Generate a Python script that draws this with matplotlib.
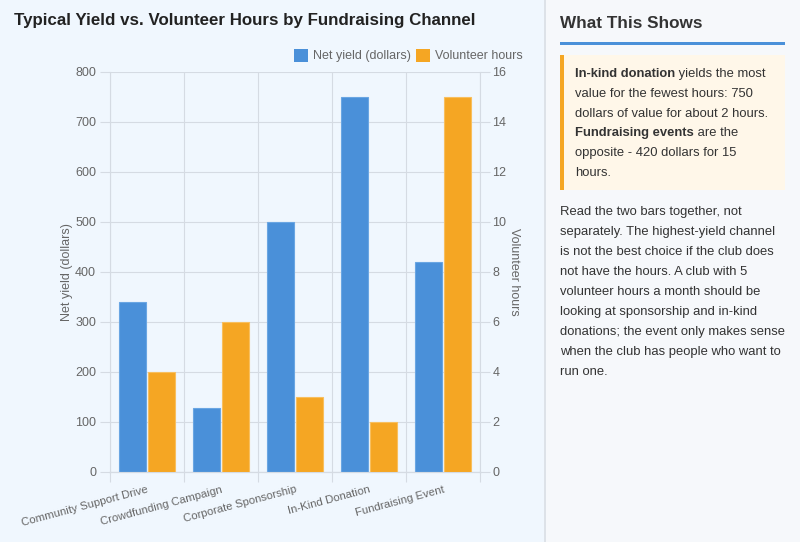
import numpy as np
import matplotlib.pyplot as plt
from matplotlib.patches import Rectangle

plt.rcParams["font.family"] = ["Liberation Sans", "DejaVu Sans"]

channels = ["Community Support Drive", "Crowdfunding Campaign", "Corporate Sponsorship",
            "In-Kind Donation", "Fundraising Event"]
net_yield = [340, 128, 500, 750, 420]
volunteer_hours = [4, 6, 3, 2, 15]

BLUE = "#4a90d9"
ORANGE = "#f5a623"
GRID = "#d5dbe3"
TICK = "#666666"

W, H = 800, 542
fig = plt.figure(figsize=(W / 100, H / 100), dpi=100)
fig.patch.set_facecolor("#f0f7fe")


def fx(px):
    return px / W


def fy(py):
    return 1 - py / H


# right panel background + divider
fig.patches.append(Rectangle((fx(545), 0), fx(255), 1, transform=fig.transFigure,
                             facecolor="#f6f8fb", edgecolor="none", zorder=0))
fig.patches.append(Rectangle((fx(544), 0), fx(1.5), 1, transform=fig.transFigure,
                             facecolor="#dde2e8", edgecolor="none", zorder=0))

# ---------------------------------------------------------
# chart
# ---------------------------------------------------------
fig.text(fx(14), fy(20), "Typical Yield vs. Volunteer Hours by Fundraising Channel",
         fontsize=12.2, fontweight="bold", color="#222222", va="center", ha="left")

ax = fig.add_axes([fx(110), fy(472), fx(370), fy(72) - fy(472)])
ax2 = ax.twinx()
ax.set_facecolor("none")

x = np.arange(len(channels))
bw = 0.36
ax.bar(x - 0.2, net_yield, width=bw, color=BLUE, edgecolor="#6aa6e3", linewidth=0.8, zorder=3)
ax2.bar(x + 0.2, volunteer_hours, width=bw, color=ORANGE, edgecolor="#f8bf5e", linewidth=0.8, zorder=3)

ax.set_xlim(-0.5, len(channels) - 0.5)
ax.set_ylim(0, 800)
ax2.set_ylim(0, 16)
ax.set_yticks(range(0, 801, 100))
ax2.set_yticks(range(0, 17, 2))

ax.set_xticks(np.arange(len(channels) + 1) - 0.5, minor=False)
ax.set_xticklabels([])
ax.set_xticks(x, minor=True)
ax.set_xticklabels(channels, minor=True, rotation=15, ha="right", va="top",
                   rotation_mode="anchor", fontsize=8.2, color=TICK)
ax.tick_params(axis="x", which="minor", length=0, pad=9)
ax.tick_params(axis="x", which="major", length=7, color=GRID)
ax.tick_params(axis="y", length=7, color=GRID, labelsize=9, labelcolor=TICK, pad=3)
ax2.tick_params(axis="y", length=7, color=GRID, labelsize=9, labelcolor=TICK, pad=2)

ax.grid(True, which="major", color=GRID, linewidth=0.8, zorder=0)
ax.set_axisbelow(True)
for a in (ax, ax2):
    for s in a.spines.values():
        s.set_visible(False)
    a.spines["left"].set_visible(a is ax)
    a.spines["right"].set_visible(a is ax2)
    a.spines["bottom"].set_visible(True)
ax.spines["left"].set_color(GRID)
ax2.spines["right"].set_color(GRID)
ax.spines["bottom"].set_color(GRID)
ax2.spines["bottom"].set_color(GRID)

ax.set_ylabel("Net yield (dollars)", fontsize=9, color=TICK)
ax2.set_ylabel("Volunteer hours", fontsize=9, color=TICK, rotation=270, labelpad=10)
ax.yaxis.set_label_coords(-0.1, 0.5)

# legend
for bx, label, col in [(294, "Net yield (dollars)", BLUE), (416, "Volunteer hours", ORANGE)]:
    fig.patches.append(Rectangle((fx(bx), fy(62)), fx(14), fy(49) - fy(62),
                                 transform=fig.transFigure, facecolor=col, edgecolor="none"))
    fig.text(fx(bx + 19), fy(56), label, fontsize=9, color=TICK, va="center", ha="left")

# ---------------------------------------------------------
# side panel
# ---------------------------------------------------------
fig.text(fx(560), fy(24), "What This Shows", fontsize=12.3, fontweight="bold",
         color="#333333", va="center", ha="left")
fig.patches.append(Rectangle((fx(560), fy(45)), fx(225), fy(42) - fy(45),
                             transform=fig.transFigure, facecolor=BLUE, edgecolor="none"))

fig.patches.append(Rectangle((fx(560), fy(190)), fx(225), fy(55) - fy(190),
                             transform=fig.transFigure, facecolor="#fff7e9", edgecolor="none"))
fig.patches.append(Rectangle((fx(560), fy(190)), fx(4), fy(55) - fy(190),
                             transform=fig.transFigure, facecolor=ORANGE, edgecolor="none"))

TXT = "#333333"
FS = 9.4
callout = [
    [("In-kind donation", "bold"), (" yields the most", "normal")],
    [("value for the fewest hours: 750", "normal")],
    [("dollars of value for about 2 hours.", "normal")],
    [("Fundraising events", "bold"), (" are the", "normal")],
    [("opposite - 420 dollars for 15", "normal")],
    [("hours.", "normal")],
]
body = [
    "Read the two bars together, not",
    "separately. The highest-yield channel",
    "is not the best choice if the club does",
    "not have the hours. A club with 5",
    "volunteer hours a month should be",
    "looking at sponsorship and in-kind",
    "donations; the event only makes sense",
    "when the club has people who want to",
    "run one.",
]

fig.canvas.draw()
renderer = fig.canvas.get_renderer()
for i, parts in enumerate(callout):
    xpos = fx(575)
    for txt, weight in parts:
        t = fig.text(xpos, fy(74 + i * 19.8), txt, fontsize=FS, fontweight=weight,
                     color=TXT, va="center", ha="left")
        bb = t.get_window_extent(renderer=renderer)
        xpos = fig.transFigure.inverted().transform((bb.x1, 0))[0]

for i, line in enumerate(body):
    fig.text(fx(560), fy(212 + i * 20), line, fontsize=FS, color=TXT, va="center", ha="left")

fig.savefig("out.png", dpi=100, facecolor=fig.get_facecolor())
